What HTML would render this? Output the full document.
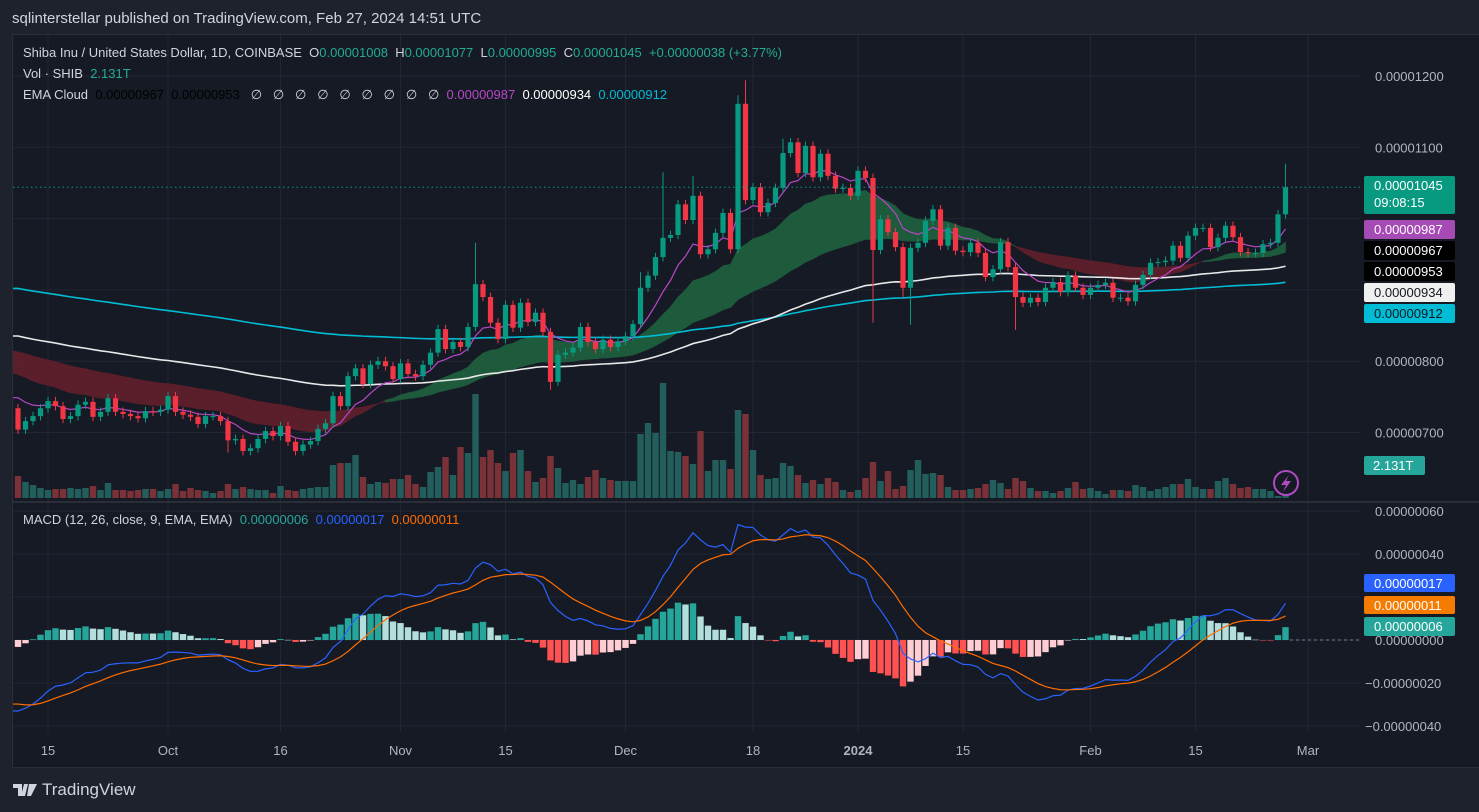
<!DOCTYPE html>
<html><head><meta charset="utf-8">
<style>
html,body{margin:0;padding:0;background:#1e222d;}
body{width:1479px;height:812px;position:relative;overflow:hidden;font-family:"Liberation Sans",sans-serif;}
svg{position:absolute;left:0;top:0;}
</style></head>
<body>
<svg id="c" width="1479" height="812"></svg>
<script>
// ---------- data (prices in units of 1e-8) ----------
const closes=[704,716,723,734,744,737,719,723,739,743,722,729,748,729,726,723,720,730,729,732,
751,729,725,722,712,723,723,716,689,691,674,678,691,702,695,709,687,674,683,688,
705,713,751,737,779,790,768,795,800,793,775,797,782,779,795,812,845,817,827,820,
848,908,890,854,831,879,847,882,855,868,841,771,809,812,819,848,827,817,830,820,
828,835,852,903,920,946,973,977,1020,998,1032,950,957,980,1008,957,1161,1026,1044,1009,
1022,1043,1092,1107,1064,1102,1058,1091,1060,1042,1043,1032,1067,1057,956,999,981,960,903,959,
966,997,1013,962,987,955,953,966,952,918,929,967,932,890,882,889,883,903,911,897,
920,903,893,903,907,910,889,889,884,907,921,938,939,941,962,945,976,987,987,960,
973,990,974,953,952,952,964,966,1006,1044];
const firstOpen=734;
const highOverride={61:966,86:1065,96:1173,97:1194,169:1077,83:925,90:1060,102:1112};
const lowOverride={71:760,114:854,119:851,133:844,28:672,118:890};
const volumes=[22,16,13,10,8,9,9,10,9,10,12,8,15,8,8,7,8,9,9,7,
9,14,7,10,8,7,5,7,14,9,11,9,8,8,5,12,8,7,9,10,
11,11,33,35,35,43,21,14,16,15,19,19,23,14,11,26,31,41,23,51,
45,104,41,48,35,27,45,48,27,16,20,42,30,15,18,14,21,28,20,18,
17,17,17,64,75,65,115,47,46,42,34,67,27,38,38,29,88,84,48,23,
19,20,35,32,23,15,18,14,20,16,8,6,8,20,36,17,27,9,12,28,
38,24,25,23,11,8,8,9,10,14,18,15,9,20,17,10,7,7,5,7,
10,16,9,10,7,4,8,8,7,13,11,7,9,11,14,14,19,11,9,9,
17,20,14,10,11,9,9,7,2,3];
// indicator seeds (values just before the first visible bar)
const emaSeeds={fast:792,slow:819,pink:760,white:838,cyan:904};
const macdSeeds={e12:735,e26:768,signal:-29};
const priceTicks=[1200,1100,800,700];
const macdTicks=[60,40,0,-20,-40];
const dateLabels=[["15",4],["Oct",20],["16",35],["Nov",51],["15",65],["Dec",81],["18",98],["2024",112],["15",126],["Feb",143],["15",157],["Mar",172]];

// ---------- scales ----------
const xK=k=>18+7.5*k;
const yP=p=>76+(1200-p)*0.713;
const yM=v=>640-v*2.15;
const yV=v=>498-v;

const NS="http://www.w3.org/2000/svg";
const svg=document.getElementById('c');
function mk(tag,attrs,parent){const e=document.createElementNS(NS,tag);for(const k in attrs)e.setAttribute(k,attrs[k]);(parent||svg).appendChild(e);return e;}
function txt(s,x,y,fill,size,parent,anchor,weight){const t=mk('text',{x:x,y:y,fill:fill,'font-size':size||13,'font-family':'Liberation Sans, sans-serif','text-anchor':anchor||'start','font-weight':weight||'normal'},parent);t.textContent=s;return t;}
function ema(arr,period,seed){const a=2/(period+1);let e=seed;return arr.map(c=>{e=e+a*(c-e);return e;});}

const N=closes.length;
const opens=closes.map((c,i)=>i===0?firstOpen:closes[i-1]);
const highs=closes.map((c,i)=>highOverride[i]!==undefined?highOverride[i]:Math.max(c,opens[i])+6);
const lows=closes.map((c,i)=>lowOverride[i]!==undefined?lowOverride[i]:Math.min(c,opens[i])-6);

// backgrounds
let bg=mk('rect',{x:0,y:0,width:1479,height:812,fill:'#1e222d'});


let pane=mk('rect',{x:12.5,y:34.5,width:1470,height:733,fill:'#161a25',stroke:'#2a2e39','stroke-width':1});



mk('defs',{}).innerHTML='<clipPath id="cm"><rect x="13" y="35" width="1347" height="465"/></clipPath><clipPath id="cd"><rect x="13" y="503" width="1347" height="235"/></clipPath>';

// grid
const grid=mk('g',{stroke:'#232632','stroke-width':1});


[1200,1100,1000,900,800,700].forEach(p=>{const l=mk('line',{x1:13,x2:1360,y1:yP(p),y2:yP(p)},grid);});
macdTicks.concat([20]).forEach(v=>{const l=mk('line',{x1:13,x2:1360,y1:yM(v),y2:yM(v)},grid);});
dateLabels.forEach(d=>{const l=mk('line',{x1:xK(d[1]),x2:xK(d[1]),y1:35,y2:732},grid);});
let sep=mk('line',{x1:13,x2:1479,y1:502,y2:502,stroke:'#2a2e39','stroke-width':2});



// main pane
const main=mk('g',{'clip-path':'url(#cm)'});



// volume
closes.forEach((c,i)=>{
  const r=mk('rect',{x:xK(i)-3.2,y:yV(volumes[i]),width:6.4,height:volumes[i],fill:c>=opens[i]?'#225f5c':'#7a3238'},main);
  
  
});

// EMAs
const fast=ema(closes,20,emaSeeds.fast), slow=ema(closes,50,emaSeeds.slow);
const pink=ema(closes,9,emaSeeds.pink), white=ema(closes,100,emaSeeds.white), cyan=ema(closes,200,emaSeeds.cyan);
for(let i=0;i<N-1;i++){
  const col=fast[i]>=slow[i]?'#1e5a3c':'#5a1f2a';
  const pts=[[xK(i),yP(fast[i])],[xK(i+1),yP(fast[i+1])],[xK(i+1),yP(slow[i+1])],[xK(i),yP(slow[i])]];
  if(i===0){pts[0][0]=13;pts[3][0]=13;}
  const q=mk('polygon',{points:pts.map(p=>p.join(',')).join(' '),fill:col,stroke:col,'stroke-width':0.6},main);
  
  
}
function line(arr,color,w,name){
  const d=arr.map((v,i)=>(i===0?'M13,'+yP(v)+' L':'L')+xK(i)+','+yP(v)).join(' ');
  const p=mk('path',{d:d,fill:'none',stroke:color,'stroke-width':w},main);
  
  
}
line(cyan,'#00bcd4',1.6,'ema-200-line');
line(white,'#e8e8e8',1.6,'ema-100-line');
line(pink,'#b847c6',1.2,'ema-9-line');

// candles
closes.forEach((c,i)=>{
  const up=c>=opens[i], col=up?'#089981':'#f23645';
  const g=mk('g',{},main);
  
  
  mk('line',{x1:xK(i),x2:xK(i),y1:yP(highs[i]),y2:yP(lows[i]),stroke:col,'stroke-width':1},g);
  const top=yP(Math.max(c,opens[i])), h=Math.max(1,yP(Math.min(c,opens[i]))-top);
  mk('rect',{x:xK(i)-2.6,y:top,width:5.2,height:h,fill:col},g);
});
// last price dotted line
let pl=mk('line',{x1:13,x2:1360,y1:yP(closes[N-1]),y2:yP(closes[N-1]),stroke:'#089981','stroke-width':1,'stroke-dasharray':'1.5,3'});



// MACD
const e12=ema(closes,12,macdSeeds.e12), e26=ema(closes,26,macdSeeds.e26);
const macd=e12.map((v,i)=>v-e26[i]);
const sig=ema(macd,9,macdSeeds.signal);
const hist=macd.map((v,i)=>v-sig[i]);
const mg=mk('g',{'clip-path':'url(#cd)'});


hist.forEach((h,i)=>{
  const prev=i>0?hist[i-1]:h;
  const col=h>=0?(h>=prev?'#26a69a':'#b2dfdb'):(h<prev?'#ff5252':'#ffcdd2');
  const r=mk('rect',{x:xK(i)-3.2,y:Math.min(yM(h),yM(0)),width:6.4,height:Math.max(0.5,Math.abs(yM(h)-yM(0))),fill:col},mg);
  
  
});
function mline(arr,color,name){
  const d=arr.map((v,i)=>(i===0?'M13,'+yM(v)+' L':'L')+xK(i)+','+yM(v)).join(' ');
  const p=mk('path',{d:d,fill:'none',stroke:color,'stroke-width':1.2},mg);
  
  
}
mline(macd,'#2962ff','macd-line');
mline(sig,'#ff6d00','signal-line');
let zl=mk('line',{x1:1290,x2:1360,y1:yM(0),y2:yM(0),stroke:'#787b86','stroke-dasharray':'3,3'});



// axes labels
priceTicks.forEach(p=>{const t=txt('0.0000'+String(p).padStart(4,'0'),1375,yP(p)+5,'#b2b5be',13);});
macdTicks.forEach(v=>{const s=(v<0?'\u22120.000000':'0.000000')+String(Math.abs(v)).padStart(2,'0');const t=txt(s,v<0?1365:1375,yM(v)+5,'#b2b5be',13);});
dateLabels.forEach(d=>{const t=txt(d[0],xK(d[1]),755,'#b2b5be',13,null,'middle',d[0]==='2024'?'bold':'normal');});

// right-side value badges
function badge(y,h,bgc,fg,lines,name){
  const g=mk('g',{});
  
  
  mk('rect',{x:1364,y:y,width:91,height:h,fill:bgc,rx:2},g);
  lines.forEach((s,j)=>txt(s,1374,y+14+j*17,fg,13,g));
}
badge(176,38,'#089981','#fff',['0.00001045','09:08:15'],'last-price-badge');
badge(220,19,'#a64bb5','#fff',['0.00000987'],'ema-9-badge');
badge(241,19,'#000','#fff',['0.00000967'],'cloud-fast-badge');
badge(262,19,'#000','#fff',['0.00000953'],'cloud-slow-badge');
badge(283,19,'#f0f0f0','#131722',['0.00000934'],'ema-100-badge');
badge(304,19,'#00bcd4','#131722',['0.00000912'],'ema-200-badge');
badge(574,18,'#2962ff','#fff',['0.00000017'],'macd-badge');
badge(596,18,'#f57c00','#fff',['0.00000011'],'signal-badge');
badge(617,19,'#26a69a','#fff',['0.00000006'],'histogram-badge');
let vb=mk('rect',{x:1364,y:456,width:61,height:19,fill:'#26a69a',rx:2});


let vbt=txt('2.131T',1373,470,'#fff',13);



// lightning icon
let li=mk('g',{});


mk('circle',{cx:1286,cy:483,r:12,fill:'none',stroke:'#b04ac0','stroke-width':2},li);
mk('path',{d:'M1289,475 L1281,485 L1286,485 L1283,492 L1291,481 L1286,481 Z',fill:'#b04ac0'},li);

// footer logo mark
let lg=mk('path',{d:'M13,784 L22,784 L22,796 L18,796 L18,788 L13,788 Z M24,784 L28,784 L25,796 L21,796 Z M29,784 L37,784 L31,796 L27,796 Z',fill:'#d1d4dc'});


</script>
<div style="position:absolute;left:12px;top:10px;color:#d1d4dc;font-size:15px;">sqlinterstellar published on TradingView.com, Feb 27, 2024 14:51 UTC</div>
<div style="position:absolute;left:23px;top:45px;font-size:13px;color:#d1d4dc;white-space:nowrap;">Shiba Inu / United States Dollar, 1D, COINBASE &nbsp;<span style="color:#d1d4dc">O</span><span style="color:#22ab94">0.00001008</span> &nbsp;<span>H</span><span style="color:#22ab94">0.00001077</span> &nbsp;<span>L</span><span style="color:#22ab94">0.00000995</span> &nbsp;<span>C</span><span style="color:#22ab94">0.00001045</span> &nbsp;<span style="color:#22ab94">+0.00000038 (+3.77%)</span></div>
<div style="position:absolute;left:23px;top:66px;font-size:13px;color:#d1d4dc;">Vol · SHIB &nbsp;<span style="color:#22ab94">2.131T</span></div>
<div style="position:absolute;left:23px;top:87px;font-size:13px;color:#d1d4dc;white-space:nowrap;">EMA Cloud &nbsp;<span style="color:#000">0.00000967</span> &nbsp;<span style="color:#000">0.00000953</span> &nbsp; ∅ &nbsp; ∅ &nbsp; ∅ &nbsp; ∅ &nbsp; ∅ &nbsp; ∅ &nbsp; ∅ &nbsp; ∅ &nbsp; ∅ &nbsp;<span style="color:#b847c6">0.00000987</span> &nbsp;<span style="color:#fff">0.00000934</span> &nbsp;<span style="color:#00bcd4">0.00000912</span></div>
<div style="position:absolute;left:23px;top:512px;font-size:13px;color:#d1d4dc;white-space:nowrap;">MACD (12, 26, close, 9, EMA, EMA) &nbsp;<span style="color:#26a69a">0.00000006</span> &nbsp;<span style="color:#2962ff">0.00000017</span> &nbsp;<span style="color:#ff6d00">0.00000011</span></div>
<div style="position:absolute;left:42px;top:780px;font-size:17px;color:#d1d4dc;">TradingView</div>
</body></html>
